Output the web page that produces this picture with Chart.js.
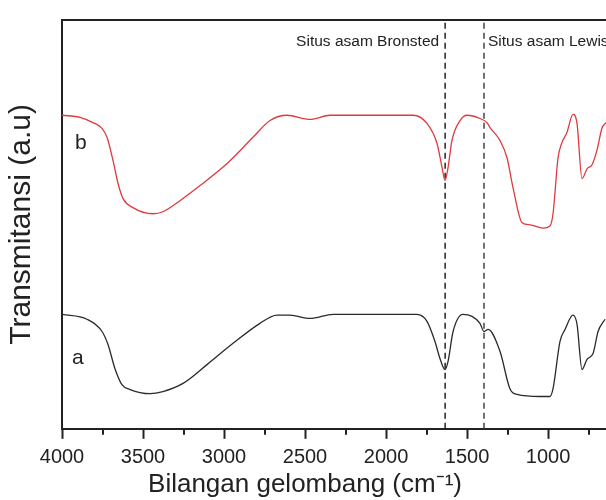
<!DOCTYPE html>
<html><head><meta charset="utf-8">
<script src="https://cdn.jsdelivr.net/npm/chart.js@4.4.1/dist/chart.umd.min.js"></script>
<style>html,body{margin:0;padding:0;background:#fff;overflow:hidden}</style>
</head><body>
<canvas id="c" width="606" height="500"></canvas>
<script>
// Wavenumbers (cm-1) and transmittance (a.u.)
const waveB  = [4000,3889,3809,3753,3722,3685,3654,3623,3562,3438,3377,3272,3148,2981,2821,2716,2611,2469,2346,1833,1747,1685,1654,1636,1617,1593,1543,1500,1420,1377,1358,1296,1253,1216,1160,1111,1031,988,969,938,914,883,846,821,790,759,728,698,667,642];
const transB = [76.7,76.2,74.9,73.5,71.3,65.6,60.0,56.3,54.1,52.6,53.1,55.8,59.5,64.9,71.3,75.4,76.7,75.7,76.7,76.7,74.7,69.8,63.9,60.7,63.9,70.5,75.4,76.7,75.9,74.9,73.7,70.5,66.3,59.0,50.4,49.9,49.1,49.6,52.6,66.3,70.0,72.5,76.9,74.7,61.2,63.6,64.6,68.1,73.5,74.9];
const waveA  = [4000,3846,3753,3716,3673,3630,3580,3457,3377,3253,3105,2944,2778,2673,2593,2469,2327,1809,1747,1698,1667,1636,1617,1586,1525,1469,1420,1395,1370,1296,1235,1191,1049,988,969,926,895,846,821,790,759,722,691,648];
const transA = [28.0,26.8,23.8,20.6,14.7,10.8,9.6,8.6,9.1,11.1,15.7,20.9,25.8,27.8,27.8,27.0,28.0,28.0,26.3,21.4,17.2,14.5,16.5,23.8,28.0,27.5,25.8,23.8,24.3,18.9,9.8,8.4,7.9,7.9,9.8,21.4,24.3,27.8,25.6,14.5,17.0,18.4,23.8,26.8];
const bronstedWave = 1635;
const lewisWave = 1395;
const xTicks = [4000,3500,3000,2500,2000,1500,1000];
const xMinorTicks = [3750,3250,2750,2250,1750,1250,750];
const xMin = 642, xMax = 4000, yMin = 0, yMax = 100;
const seriesLabels = ['a','b'];
const siteLabels = ['Situs asam Bronsted','Situs asam Lewis'];
const labelLevel = 94.6;
const seriesLabelPos = [{x:3938,y:17.2},{x:3920,y:69.8}];

const FONT = "'Liberation Sans', Arial, sans-serif";
const INK = '#222';

const toPts = (xs, ys) => xs.map((x,i)=>({x, y: ys[i]}));

const annot = {
  id: 'annot',
  afterDatasetsDraw(chart) {
    const {ctx, scales:{x, y}} = chart;
    ctx.save();
    ctx.strokeStyle = INK; ctx.lineWidth = 2;
    const b = x.top;
    xMinorTicks.forEach(v => {
      if (v < xMin) return;
      const px = Math.round(x.getPixelForValue(v));
      ctx.beginPath(); ctx.moveTo(px, b); ctx.lineTo(px, b + 6); ctx.stroke();
    });
    ctx.fillStyle = INK;
    ctx.font = "15.5px " + FONT;
    ctx.textBaseline = 'middle';
    ctx.textAlign = 'right';
    ctx.fillText(siteLabels[0], x.getPixelForValue(bronstedWave) - 6, y.getPixelForValue(labelLevel));
    ctx.textAlign = 'left';
    ctx.fillText(siteLabels[1], x.getPixelForValue(lewisWave) + 4, y.getPixelForValue(labelLevel));
    ctx.font = "21px " + FONT;
    seriesLabels.forEach((t,i) => {
      ctx.fillText(t, x.getPixelForValue(seriesLabelPos[i].x), y.getPixelForValue(seriesLabelPos[i].y));
    });
    ctx.restore();
  }
};

new Chart(document.getElementById('c'), {
  type: 'line',
  data: {
    datasets: [
      {label:'a', data: toPts(waveA, transA), borderColor:'#2a2a2a', borderWidth:1.3, pointRadius:0, cubicInterpolationMode:'monotone'},
      {label:'b', data: toPts(waveB, transB), borderColor:'#e0393e', borderWidth:1.3, pointRadius:0, cubicInterpolationMode:'monotone'},
      {label:'Bronsted', data: [{x:bronstedWave,y:yMin},{x:bronstedWave,y:yMax}], borderColor:INK, borderWidth:1.5, borderDash:[6,4], pointRadius:0},
      {label:'Lewis', data: [{x:lewisWave,y:yMin},{x:lewisWave,y:yMax}], borderColor:'#444', borderWidth:1.5, borderDash:[6,4], pointRadius:0}
    ]
  },
  options: {
    responsive:false, animation:false, devicePixelRatio:1,
    layout:{padding:{left:4, top:20, right:0, bottom:0}},
    plugins:{
      legend:{display:false}, tooltip:{enabled:false},
      title:{display:true, position:'bottom', text:'Bilangan gelombang (cm\u207B\u00B9)', color:INK, font:{family:FONT, size:26, weight:'normal'}, padding:{top:0,bottom:0}}
    },
    scales:{
      x:{type:'linear', reverse:true, min:xMin, max:xMax,
         afterBuildTicks(s){ s.ticks = xTicks.map(v=>({value:v})); },
         afterFit(s){ s.height = s.height - 8; },
         ticks:{autoSkip:false, maxRotation:0, padding:7, color:INK, font:{family:FONT, size:20}, callback:(v)=>String(v)},
         grid:{display:true, drawOnChartArea:false, drawTicks:true, tickLength:10, tickWidth:2, tickColor:INK},
         border:{display:true, width:2, color:INK}},
      x2:{type:'linear', position:'top', reverse:true, min:xMin, max:xMax, display:true,
         ticks:{display:false}, grid:{display:false, drawTicks:false}, border:{display:true, width:2, color:INK}},
      y:{type:'linear', min:yMin, max:yMax,
         ticks:{display:false}, grid:{display:false, drawTicks:false},
         border:{display:true, width:2, color:INK},
         afterFit(s){ s.width = 58; },
         title:{display:true, text:'Transmitansi (a.u)', color:INK, font:{family:FONT, size:30}, padding:{top:0,bottom:0}}}
    }
  },
  plugins:[annot]
});
</script>
</body></html>
